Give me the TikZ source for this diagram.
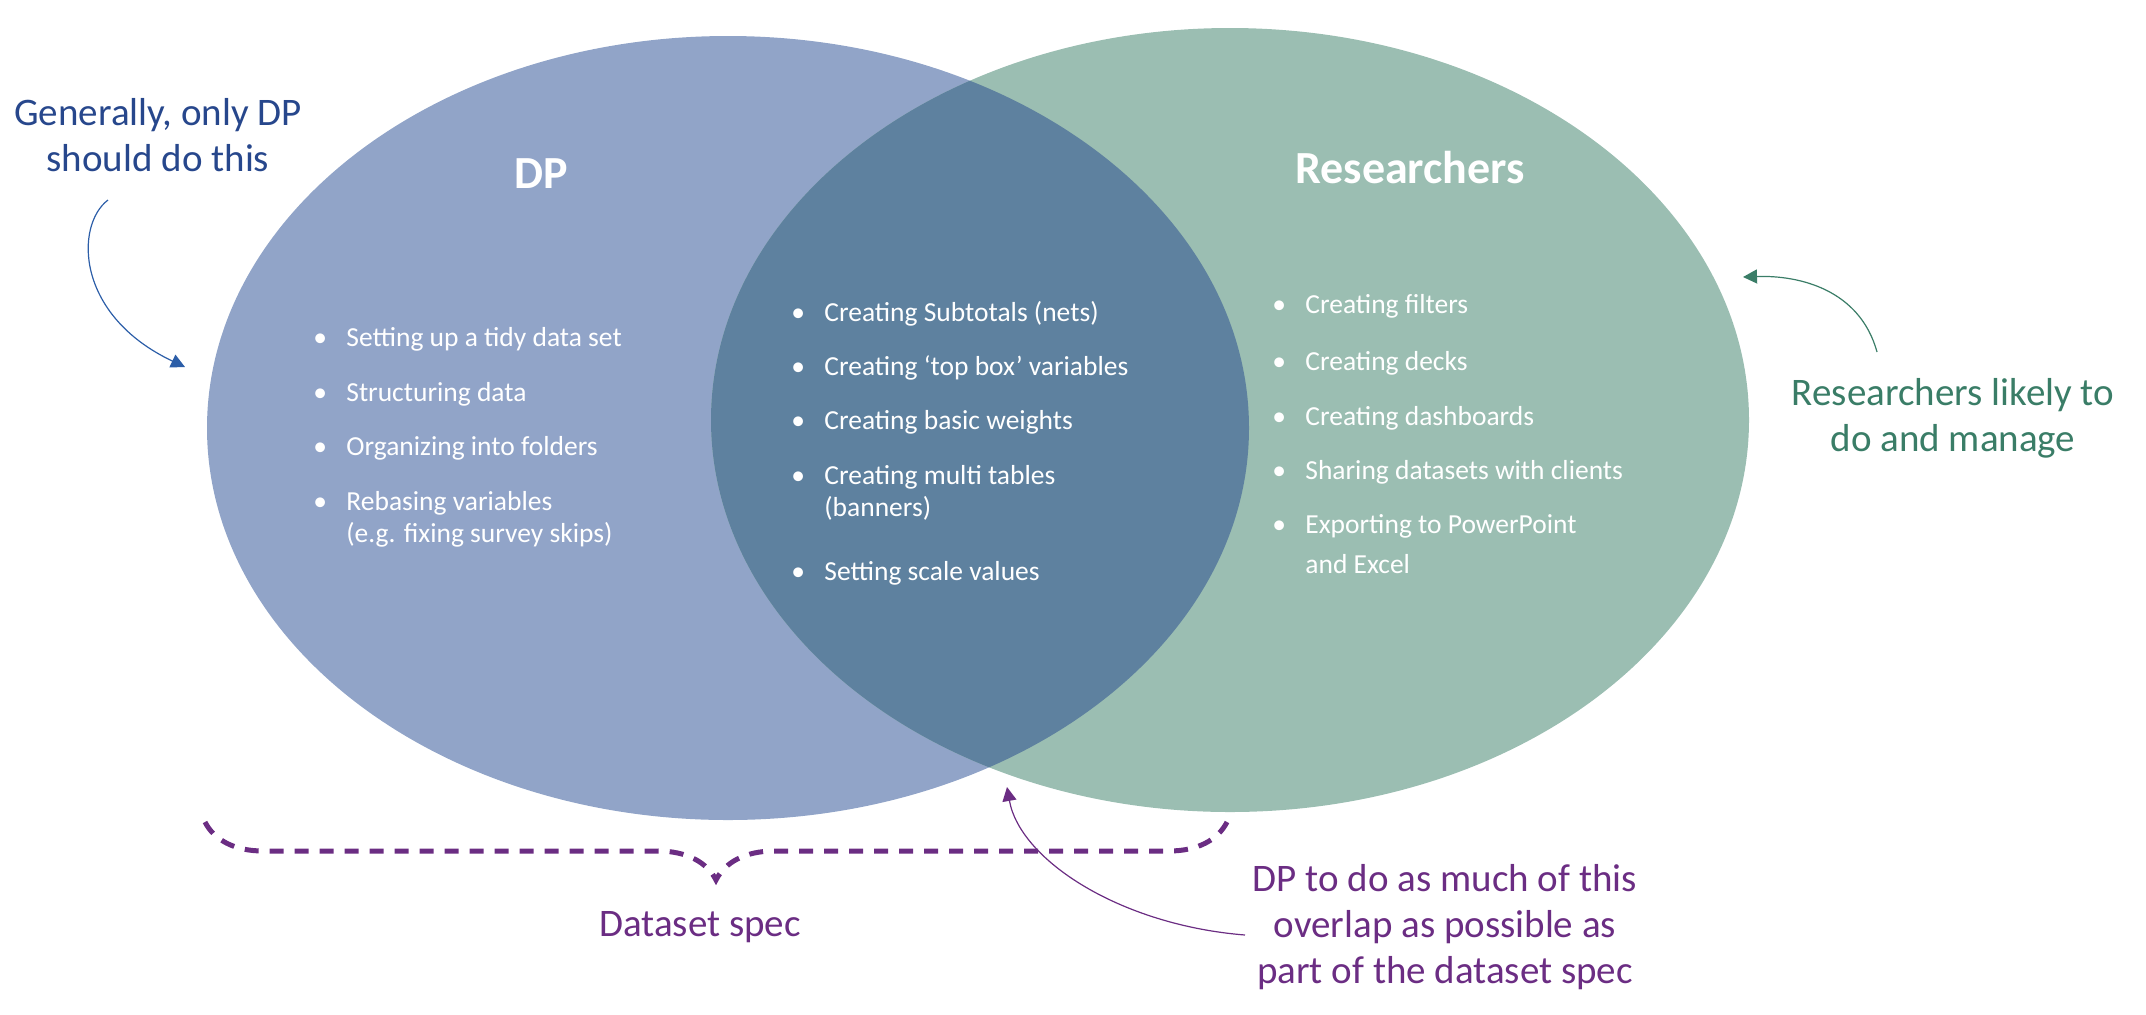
\documentclass[tikz,border=0pt]{standalone}
\usepackage{fontspec}
\setmainfont{Carlito}
\usepackage{tikz}
\usetikzlibrary{arrows.meta}
\usetikzlibrary{decorations.pathreplacing}

\definecolor{dpblue}{HTML}{91A4C8}
\definecolor{resgreen}{HTML}{9BBEB2}
\definecolor{overlapblue}{HTML}{5E819F}
\definecolor{noteblue}{HTML}{27478C}
\definecolor{arrowblue}{HTML}{2C5EA8}
\definecolor{notegreen}{HTML}{3A7D67}
\definecolor{notepurple}{HTML}{6B2D83}

\newcommand{\itembullet}{\llap{\makebox[16.5pt][l]{\textbullet}}}

\begin{document}
\begin{tikzpicture}[
	x=0.5pt,y=-0.5pt,
	title/.style={text=white,font=\fontsize{23}{28}\selectfont\bfseries},
	item/.style={
		anchor=base west,
		text=white,
		align=left,
		inner sep=0pt,
		font=\fontsize{13.75}{16}\selectfont,
	},
	note/.style={align=center,inner sep=0pt,font=\fontsize{19.5}{23}\selectfont},
	pointer/.style={-{Triangle[length=7pt,width=7pt]},line width=0.6pt},
	spec brace/.style={
		decorate,decoration={brace,mirror,amplitude=29pt},
		draw=notepurple,line width=2.5pt,dash pattern=on 7pt off 5.5pt,
	},
]
\useasboundingbox (0,0) rectangle (2146,1014);

% the two sets and their overlap
\fill[dpblue] (728,428) ellipse [x radius=521,y radius=392];
\fill[resgreen] (1230,420) ellipse [x radius=519,y radius=392];
\begin{scope}
	\clip (728,428) ellipse [x radius=521,y radius=392];
	\fill[overlapblue] (1230,420) ellipse [x radius=519,y radius=392];
\end{scope}

\node [title] (dp) at (541,174) {DP};
\node [title] (res) at (1410,168) {Researchers};

% DP only (two-line items sit on their last line)
\node [item] (dp1) at (346,346) {\itembullet Setting up a tidy data set};
\node [item] (dp2) at (346,401) {\itembullet Structuring data};
\node [item] (dp3) at (346,455) {\itembullet Organizing into folders};
\node [item] (dp4) at (346,542) {\itembullet Rebasing variables\\(e.g. fixing survey skips)};

% overlap
\node [item] (both1) at (824,321) {\itembullet Creating Subtotals (nets)};
\node [item] (both2) at (824,375) {\itembullet Creating ‘top box’ variables};
\node [item] (both3) at (824,429) {\itembullet Creating basic weights};
\node [item] (both4) at (824,516) {\itembullet Creating multi tables\\(banners)};
\node [item] (both5) at (824,580) {\itembullet Setting scale values};

% researchers only
\node [item] (res1) at (1305,313) {\itembullet Creating filters};
\node [item] (res2) at (1305,370) {\itembullet Creating decks};
\node [item] (res3) at (1305,425) {\itembullet Creating dashboards};
\node [item] (res4) at (1305,479) {\itembullet Sharing datasets with clients};
\node [item] (res5) at (1305,573) {\itembullet Exporting to PowerPoint\\[4pt]and Excel};

% notes round the sets
\node [note,text=noteblue] (gen) at (158,135) {Generally, only DP\\should do this};
\node [note,text=notegreen] (likely) at (1953,418) {Researchers likely to\\do and manage};
\node [note,text=notepurple] (spec) at (700,927) {Dataset spec};
\node [note,text=notepurple] (much) at (1445,927) {DP to do as much of this\\overlap as possible as\\part of the dataset spec};

\coordinate (gen tail) at (108,200);
\coordinate (gen tip) at (185,367);
\coordinate (likely tail) at (1877,352);
\coordinate (likely tip) at (1743,277);
\coordinate (much tail) at (1245,935);
\coordinate (much tip) at (1007,787);
\coordinate (spec left) at (205,822);
\coordinate (spec right) at (1227,822);

\draw [pointer,arrowblue] (gen tail) .. controls (75,225) and (75,315) .. (gen tip);
\draw [pointer,notegreen] (likely tail) .. controls (1860,290) and (1800,275) .. (likely tip);
\draw [pointer,notepurple] (much tail) .. controls (1120,925) and (1020,860) .. (much tip);
\draw [spec brace] (spec left) -- (spec right);
\end{tikzpicture}
\end{document}
